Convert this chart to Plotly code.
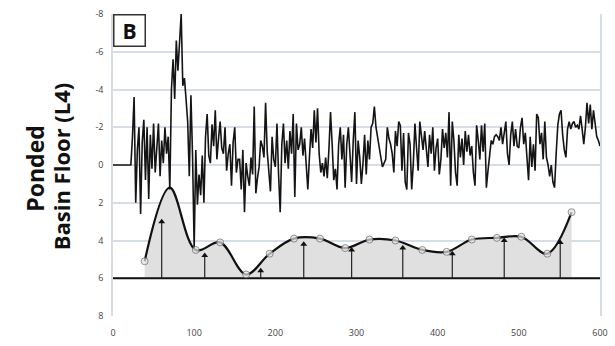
import plotly.graph_objects as go

# ---------------- data ----------------
# noisy record: flat start, then segments sampled every 2 units
flat_x = [0, 22]
flat_y = [0, 0]

seg1_start = 24
seg1 = [-1.5, -3.6, 2.0, -0.8, -2.0, 2.6, -1.2, -2.4, 0.8, -2.0,
        1.8, -1.6, 0.2, -2.2, 0.4, -0.8, -2.2, 0.6, -1.3, -0.1,
        -2.0, -0.6, -1.5, 1.3, -4.0, -5.6, -3.5, -6.6, -5.0, -6.5,
        -8.0, -4.2, -4.6, -3.5, -2.3, 0.6, -3.7, -0.5, 4.4, -0.8]

seg2_start = 104
seg2 = [2.1, 0.5, 1.6, -0.5, 2.0, -1.5, -2.7, -0.5, -0.1, -2.15,
        -1.0, -2.9, -0.3, -1.4, -2.3, -0.9, -0.6, -2.0, 0.3, -0.6,
        -1.1, 1.1, -1.2, -2.0, 0.4, -0.3, -0.3, 1.3, -0.8, 2.5,
        -0.1, 0.6, 1.1, -0.4, 0.5, -3.1, 1.5, 0.7, 0.1, -1.3,
        -1.0, -0.4, -3.3, -0.7, 0.5, 1.4, -1.5, -0.3, 0.1, -2.2]

seg3_start = 204
seg3 = [0.5, 2.5, -1.1, -2.2, -0.1, -1.3, 0.2, -1.8, -0.6, -2.7,
        1.7, -2.2, -0.8, -1.1, -2.0, -0.5, -1.4, 0.3, 1.3, -0.4,
        -1.9, -0.9, -2.9, -1.2, -3.0, -0.6, 0.4, -0.1, 0.6, -0.4,
        0.7, -0.8, -2.8, -1.1, 0.8, 0.2, 1.3, -1.1, -2.0, -0.3,
        -1.6, 1.2, -1.1, -2.0, -0.4, 0.9, -1.3, -2.8, 1.0, -1.3]

seg4_start = 304
seg4 = [-0.4, 1.0, -0.1, -1.6, 0.5, -1.3, -0.3, -2.0, -2.2, -3.1,
        -2.0, -1.4, -0.8, -0.4, 0.1, -0.1, -0.3, -2.0, -1.4, -1.1,
        -0.6, 0.4, -1.8, -1.0, -2.3, -2.1, 0.3, -1.7, 0.9, 1.3,
        -1.7, -1.1, 1.3, -0.1, -2.2, -0.9, 0.3, -2.3, -1.6, -0.8,
        -1.8, -0.8, 0.1, -1.6, -0.6, -2.0, 0.3, -0.9, -1.4, 0.5]

seg5_start = 404
seg5 = [-0.3, -1.9, -0.9, -1.7, -0.4, -2.8, 1.1, -2.3, -1.3, 0.4,
        1.1, -1.6, -0.4, -1.4, 0.0, -1.8, -0.7, -1.6, -0.5, -1.0,
        0.4, 1.1, -2.1, -1.3, -0.3, -2.1, -0.7, -2.2, 1.2, 0.3,
        -0.7, -1.3, -1.1, -1.5, -1.6, -1.5, -1.3, -2.0, -1.1, -1.7,
        -2.3, -0.6, 0.0, -1.6, -2.3, -1.0, -1.9, -1.0, -0.9, -2.0]

seg6_start = 504
seg6 = [-2.5, -1.1, -1.7, -0.4, 0.8, -1.5, 0.1, -1.1, 0.3, -2.7,
        -2.5, -1.1, -1.7, -0.3, -2.3, -0.4, 0.0, 0.6, 0.0, 0.9,
        1.2, -0.6, -2.1, -2.7, -2.9, -1.6, -0.8, -0.4, -1.9, -2.3,
        -1.9, -2.2, -2.3, -2.0, -2.1, -1.9, -2.6, -1.9, -1.1, -2.0,
        -3.3, -2.2, -3.2, -1.9, -2.9, -2.2, -1.5, -1.3, -1.0]

# smoothed basin-floor curve (control points)
curve_x = [39, 70, 102, 132, 164, 193, 223, 255, 286, 316, 348, 381, 411, 442, 473, 503, 535, 565]
curve_y = [5.1, 1.2, 4.5, 4.1, 5.8, 4.7, 3.9, 3.9, 4.4, 3.95, 4.0, 4.5, 4.6, 3.95, 3.86, 3.8, 4.7, 2.5]
curve_marker_shown = [1, 0, 1, 1, 1, 1, 1, 1, 1, 1, 1, 1, 1, 1, 1, 1, 1, 1]

# arrows rising from the base level
arrow_x = [60, 113, 182, 235, 294, 357, 418, 482, 551]
arrow_y = [3.0, 4.8, 5.6, 4.2, 4.5, 4.4, 4.7, 4.0, 4.1]

base_level = 6
x_range = [0, 600]

x_ticks = [0, 100, 200, 300, 400, 500, 600]
y_ticks = [-8, -6, -4, -2, 0, 2, 4, 6, 8]
y_ticktext = ["-8", "-6", "-4", "-2", "0", "2", "4", "6", "8"]

# ---------------- build ----------------
noise_x = list(flat_x)
noise_y = list(flat_y)
for start, seg in [(seg1_start, seg1), (seg2_start, seg2), (seg3_start, seg3),
                   (seg4_start, seg4), (seg5_start, seg5), (seg6_start, seg6)]:
    noise_x += [start + 2 * i for i in range(len(seg))]
    noise_y += seg

fig = go.Figure()

# fill baseline
fig.add_trace(go.Scatter(x=[curve_x[0], curve_x[-1]], y=[base_level, base_level],
                         mode="lines", line=dict(width=0, color="rgba(0,0,0,0)"),
                         hoverinfo="skip", showlegend=False))
# fill under curve
fig.add_trace(go.Scatter(x=curve_x, y=curve_y, mode="lines",
                         line=dict(width=0, shape="spline", smoothing=1.0, color="rgba(0,0,0,0)"),
                         fill="tonexty", fillcolor="#e0e0e0",
                         hoverinfo="skip", showlegend=False))

# noisy record
fig.add_trace(go.Scatter(x=noise_x, y=noise_y, mode="lines",
                         line=dict(color="#141414", width=1.6),
                         showlegend=False))

# base line
fig.add_trace(go.Scatter(x=x_range, y=[base_level, base_level], mode="lines",
                         line=dict(color="#111", width=2), showlegend=False))

# arrow stems
stem_x, stem_y = [], []
for ax, ay in zip(arrow_x, arrow_y):
    stem_x += [ax, ax, None]
    stem_y += [base_level, ay, None]
fig.add_trace(go.Scatter(x=stem_x, y=stem_y, mode="lines",
                         line=dict(color="#222", width=1.2), showlegend=False))
fig.add_trace(go.Scatter(x=arrow_x, y=arrow_y, mode="markers",
                         marker=dict(symbol="triangle-up", size=6, color="#111"),
                         showlegend=False))

# smoothed curve with markers
fig.add_trace(go.Scatter(x=curve_x, y=curve_y, mode="lines",
                         line=dict(color="#111", width=2.2, shape="spline", smoothing=1.0),
                         showlegend=False))
fig.add_trace(go.Scatter(x=curve_x, y=curve_y, mode="markers",
                         marker=dict(size=[7 * s for s in curve_marker_shown], color="#e4e4e4",
                                     line=dict(color="#666", width=1)),
                         showlegend=False))

fig.update_layout(
    width=615, height=346,
    margin=dict(l=113, r=7, t=10, b=25),
    paper_bgcolor="white", plot_bgcolor="white",
    font=dict(family="Open Sans", color="#444"),
    xaxis=dict(range=x_range, tickvals=x_ticks, showgrid=False, zeroline=False,
               ticks="outside", ticklen=8, tickcolor="rgba(0,0,0,0)",
               tickfont=dict(size=9, color="#444")),
    yaxis=dict(range=[8, -8], tickvals=y_ticks, ticktext=y_ticktext,
               showgrid=True, gridcolor="#d6dde5", gridwidth=1.5, zeroline=False,
               showline=True, mirror=True, linecolor="#d6dde5", linewidth=1.5,
               ticks="outside", ticklen=6, tickcolor="rgba(0,0,0,0)",
               tickfont=dict(size=9, color="#444")),
    annotations=[
        dict(text="<b>B</b>", x=0, y=1, xref="paper", yref="paper",
             xanchor="left", yanchor="top", showarrow=False,
             font=dict(family="Open Sans", size=21, color="#111"),
             bordercolor="#333", borderwidth=1.5, borderpad=0,
             width=30, height=30, bgcolor="white"),
        dict(text="<b>Ponded</b>", x=(34 - 113) / 495, y=1 - (169 - 10) / 311,
             xref="paper", yref="paper", xanchor="center", yanchor="middle",
             textangle=-90, showarrow=False,
             font=dict(family="Open Sans", size=23, color="#111")),
        dict(text="<b>Basin Floor (L4)</b>", x=(61 - 113) / 495, y=1 - (167 - 10) / 311,
             xref="paper", yref="paper", xanchor="center", yanchor="middle",
             textangle=-90, showarrow=False,
             font=dict(family="Open Sans", size=22, color="#111")),
    ],
)

fig.write_html("out.html")
